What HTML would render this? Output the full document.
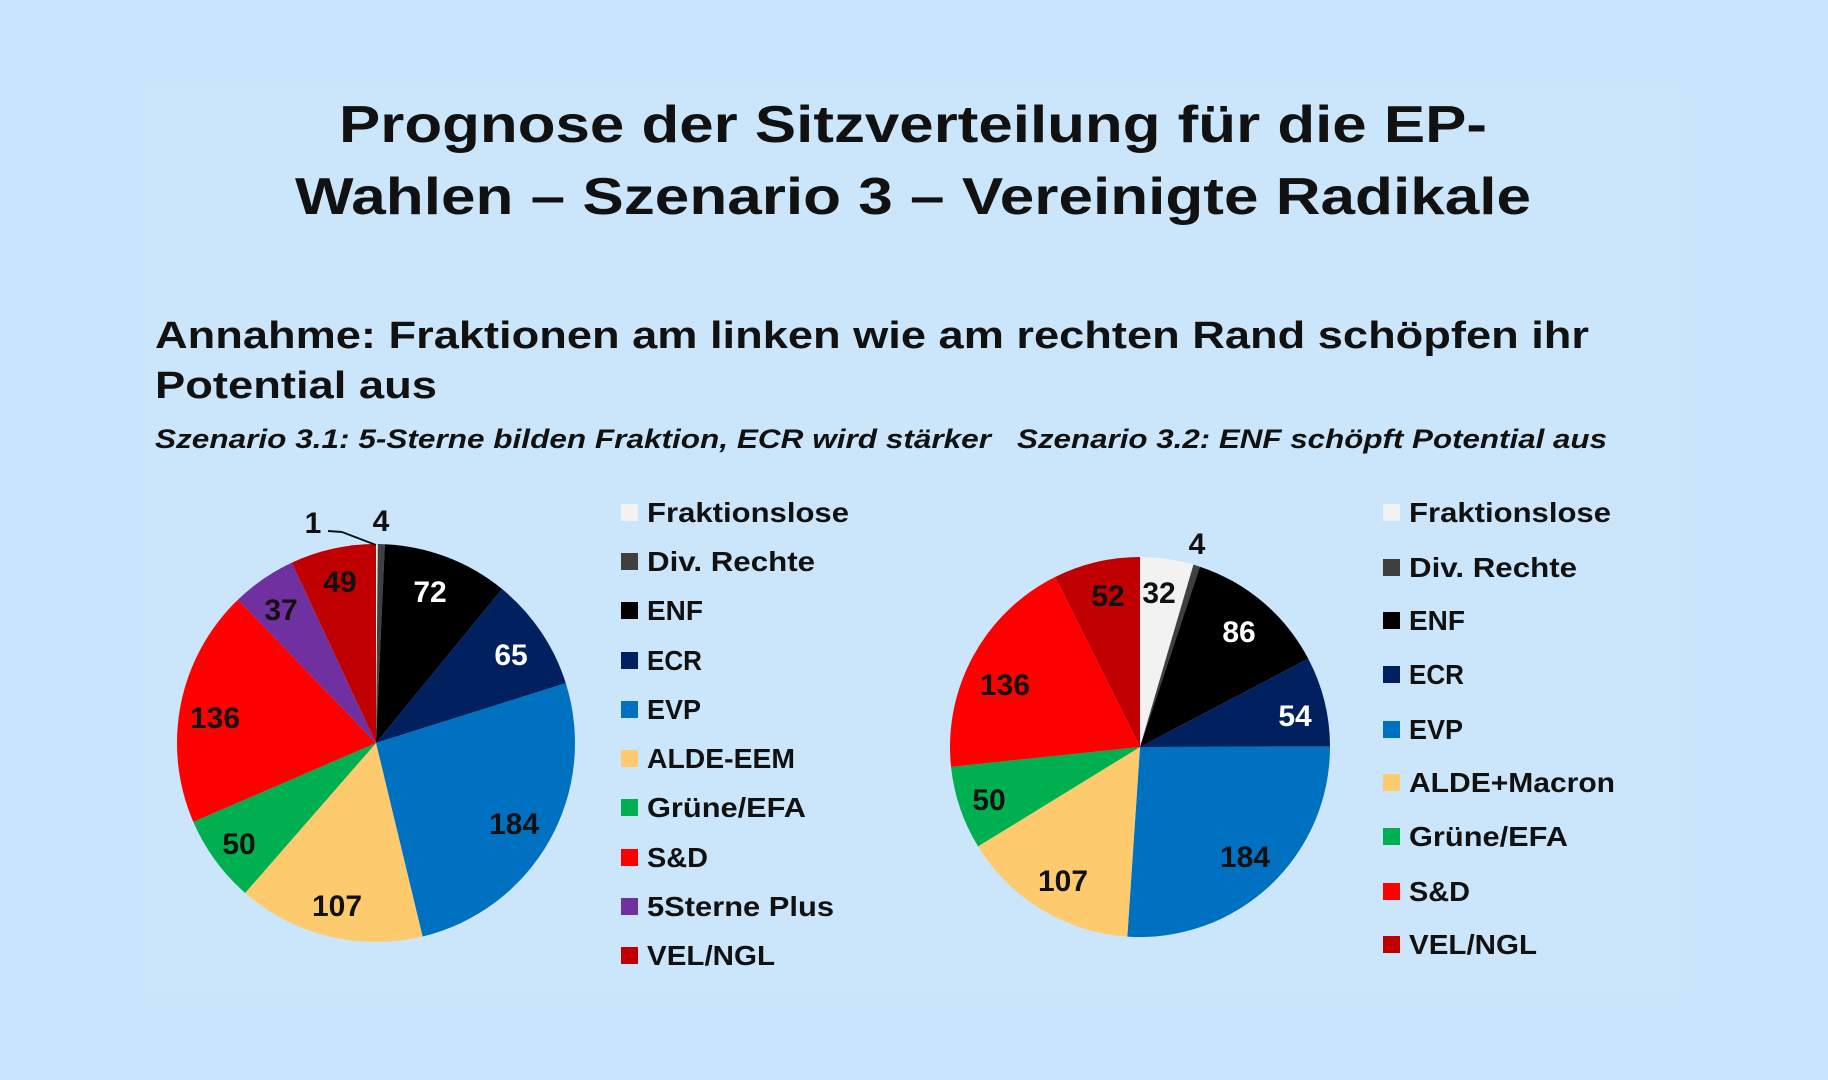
<!DOCTYPE html>
<html><head><meta charset="utf-8"><style>
html,body{margin:0;padding:0;background:#c9e5fb;}
svg{display:block}
text{font-family:"Liberation Sans",sans-serif;font-weight:bold;fill:#111;}
</style></head><body>
<svg id="s" width="1828" height="1080" viewBox="0 0 1828 1080" xmlns="http://www.w3.org/2000/svg">
<rect width="1828" height="1080" fill="#c9e5fb"/>
<rect x="142" y="87" width="1543" height="910" fill="#cbe6fb"/>
<text x="913" y="142" font-size="52" text-anchor="middle" textLength="1148" lengthAdjust="spacingAndGlyphs">Prognose der Sitzverteilung für die EP-</text>
<text x="913" y="214" font-size="52" text-anchor="middle" textLength="1236" lengthAdjust="spacingAndGlyphs">Wahlen – Szenario 3 – Vereinigte Radikale</text>
<text x="155" y="348" font-size="38" textLength="1434" lengthAdjust="spacingAndGlyphs">Annahme: Fraktionen am linken wie am rechten Rand schöpfen ihr</text>
<text x="155" y="398" font-size="38" textLength="282" lengthAdjust="spacingAndGlyphs">Potential aus</text>
<text x="155" y="448" font-size="27" font-style="italic" textLength="836" lengthAdjust="spacingAndGlyphs">Szenario 3.1: 5-Sterne bilden Fraktion, ECR wird stärker</text>
<text x="1017" y="448" font-size="27" font-style="italic" textLength="590" lengthAdjust="spacingAndGlyphs">Szenario 3.2: ENF schöpft Potential aus</text>
<g id="p1"></g><g id="p2"></g>
<line x1="328" y1="531" x2="342" y2="532" stroke="#111" stroke-width="2"/>
<line x1="342" y1="532" x2="376" y2="545" stroke="#111" stroke-width="2"/>
<g font-size="30" text-anchor="middle">
<text x="313" y="533">1</text><text x="381" y="531">4</text>
<text x="430" y="602" style="fill:#fff">72</text>
<text x="511" y="665" style="fill:#fff">65</text>
<text x="514" y="834">184</text>
<text x="337" y="916">107</text>
<text x="239" y="854">50</text>
<text x="215" y="728">136</text>
<text x="281" y="620">37</text>
<text x="340" y="592">49</text>
<text x="1159" y="603">32</text><text x="1197" y="554">4</text>
<text x="1239" y="642" style="fill:#fff">86</text>
<text x="1295" y="726" style="fill:#fff">54</text>
<text x="1245" y="867">184</text>
<text x="1063" y="891">107</text>
<text x="989" y="810">50</text>
<text x="1005" y="695">136</text>
<text x="1108" y="606">52</text>
</g>
<g font-size="28">
<rect x="621" y="504" width="17" height="17" fill="#f2f2f2"/><text x="647" y="522" textLength="202" lengthAdjust="spacingAndGlyphs">Fraktionslose</text>
<rect x="621" y="553" width="17" height="17" fill="#404040"/><text x="647" y="571" textLength="168" lengthAdjust="spacingAndGlyphs">Div. Rechte</text>
<rect x="621" y="602" width="17" height="17" fill="#000"/><text x="647" y="620" textLength="56" lengthAdjust="spacingAndGlyphs">ENF</text>
<rect x="621" y="652" width="17" height="17" fill="#002060"/><text x="647" y="670" textLength="55" lengthAdjust="spacingAndGlyphs">ECR</text>
<rect x="621" y="701" width="17" height="17" fill="#0070c0"/><text x="647" y="719" textLength="54" lengthAdjust="spacingAndGlyphs">EVP</text>
<rect x="621" y="750" width="17" height="17" fill="#fdcb6e"/><text x="647" y="768" textLength="148" lengthAdjust="spacingAndGlyphs">ALDE-EEM</text>
<rect x="621" y="799" width="17" height="17" fill="#00b050"/><text x="647" y="817" textLength="159" lengthAdjust="spacingAndGlyphs">Grüne/EFA</text>
<rect x="621" y="849" width="17" height="17" fill="#ff0000"/><text x="647" y="867" textLength="61" lengthAdjust="spacingAndGlyphs">S&amp;D</text>
<rect x="621" y="898" width="17" height="17" fill="#7030a0"/><text x="647" y="916" textLength="187" lengthAdjust="spacingAndGlyphs">5Sterne Plus</text>
<rect x="621" y="947" width="17" height="17" fill="#c00000"/><text x="647" y="965" textLength="128" lengthAdjust="spacingAndGlyphs">VEL/NGL</text>

<rect x="1383" y="504" width="17" height="17" fill="#f2f2f2"/><text x="1409" y="522" textLength="202" lengthAdjust="spacingAndGlyphs">Fraktionslose</text>
<rect x="1383" y="559" width="17" height="17" fill="#404040"/><text x="1409" y="577" textLength="168" lengthAdjust="spacingAndGlyphs">Div. Rechte</text>
<rect x="1383" y="612" width="17" height="17" fill="#000"/><text x="1409" y="630" textLength="56" lengthAdjust="spacingAndGlyphs">ENF</text>
<rect x="1383" y="666" width="17" height="17" fill="#002060"/><text x="1409" y="684" textLength="55" lengthAdjust="spacingAndGlyphs">ECR</text>
<rect x="1383" y="721" width="17" height="17" fill="#0070c0"/><text x="1409" y="739" textLength="54" lengthAdjust="spacingAndGlyphs">EVP</text>
<rect x="1383" y="774" width="17" height="17" fill="#fdcb6e"/><text x="1409" y="792" textLength="206" lengthAdjust="spacingAndGlyphs">ALDE+Macron</text>
<rect x="1383" y="828" width="17" height="17" fill="#00b050"/><text x="1409" y="846" textLength="159" lengthAdjust="spacingAndGlyphs">Grüne/EFA</text>
<rect x="1383" y="883" width="17" height="17" fill="#ff0000"/><text x="1409" y="901" textLength="61" lengthAdjust="spacingAndGlyphs">S&amp;D</text>
<rect x="1383" y="936" width="17" height="17" fill="#c00000"/><text x="1409" y="954" textLength="128" lengthAdjust="spacingAndGlyphs">VEL/NGL</text>
</g>
</svg>
<script>
function pie(id,cx,cy,r,data){
 var g=document.getElementById(id),tot=0,i;for(i=0;i<data.length;i++)tot+=data[i][0];
 var a=0,h='';
 for(i=0;i<data.length;i++){
  var b=a+data[i][0]/tot*2*Math.PI;
  var x1=cx+r*Math.sin(a),y1=cy-r*Math.cos(a),x2=cx+r*Math.sin(b),y2=cy-r*Math.cos(b);
  h+='<path d="M'+cx+','+cy+' L'+x1+','+y1+' A'+r+','+r+' 0 '+((b-a)>Math.PI?1:0)+' 1 '+x2+','+y2+' Z" fill="'+data[i][1]+'"/>';
  a=b;
 }
 g.innerHTML=h;
}
pie('p1',376,743,199,[[1,'#f2f2f2'],[4,'#404040'],[72,'#000'],[65,'#002060'],[184,'#0070c0'],[107,'#fdcb6e'],[50,'#00b050'],[136,'#ff0000'],[37,'#7030a0'],[49,'#c00000']]);
pie('p2',1140,747,190,[[32,'#f2f2f2'],[4,'#404040'],[86,'#000'],[54,'#002060'],[184,'#0070c0'],[107,'#fdcb6e'],[50,'#00b050'],[136,'#ff0000'],[52,'#c00000']]);
</script>
</body></html>
